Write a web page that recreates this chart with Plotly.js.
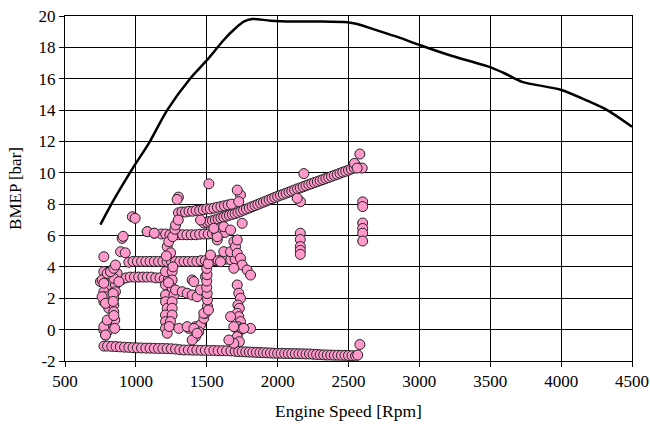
<!DOCTYPE html>
<html>
<head>
<meta charset="utf-8">
<script src="https://cdn.plot.ly/plotly-3.0.1.min.js"></script>
<style>html,body{margin:0;padding:0;background:#fff;}#chart{width:650px;height:426px;}</style>
</head>
<body>
<div id="chart"></div>
<script>
// Full-load BMEP curve
const flRpm  = [750,844,985,1091,1221,1385,1503,1620,1700,1761,1821,1950,2114,2300,2491,2561,2679,2850,3001,3214,3478,3600,3725,3996,4184,4325,4500];
const flBmep = [6.7,8.27,10.39,11.88,14.0,16.03,17.2,18.47,19.2,19.64,19.81,19.7,19.65,19.65,19.6,19.49,19.15,18.65,18.15,17.5,16.8,16.35,15.8,15.3,14.6,14.0,12.94];

// Operating points (grouped by visual clusters)
const motorRpm  = [775,800,830,860,890,920,950,980,1010,1040,1070,1100,1130,1160,1190,1220,1250,1280,1310,1340,1370,1400,1430,1460,1490,1520,1550,1580,1610,1640,1670,1700,1725,1750,1775,1800,1825,1850,1875,1900,1925,1950,1975,2000,2025,2050,2075,2100,2125,2150,2175,2200,2225,2250,2275,2300,2325,2350,2375,2400,2425,2450,2475,2500,2525,2550,2565];
const motorBmep = [-1.05,-1.05,-1.07,-1.08,-1.1,-1.12,-1.13,-1.15,-1.16,-1.17,-1.18,-1.18,-1.19,-1.2,-1.2,-1.21,-1.22,-1.24,-1.28,-1.3,-1.3,-1.31,-1.31,-1.32,-1.32,-1.33,-1.33,-1.34,-1.34,-1.35,-1.36,-1.38,-1.4,-1.41,-1.42,-1.43,-1.44,-1.45,-1.46,-1.47,-1.48,-1.49,-1.5,-1.51,-1.51,-1.52,-1.52,-1.53,-1.53,-1.54,-1.54,-1.55,-1.55,-1.57,-1.58,-1.6,-1.61,-1.62,-1.62,-1.63,-1.63,-1.64,-1.64,-1.65,-1.66,-1.68,-1.62];

const diagRpm  = [1480,1500,1520,1540,1560,1580,1600,1620,1640,1660,1680,1700,1720,1740,1760,1780,1800,1820,1840,1860,1880,1900,1920,1940,1960,1980,2000,2020,2040,2060,2080,2100,2120,2140,2160,2180,2200,2220,2240,2260,2280,2300,2320,2340,2360,2380,2400,2420,2440,2460,2480,2500,2520,2540,2560];
const diagBmep = [6.8,6.85,6.9,6.95,7.0,7.06,7.12,7.18,7.24,7.3,7.35,7.4,7.47,7.54,7.62,7.69,7.76,7.84,7.91,7.98,8.06,8.13,8.2,8.28,8.35,8.43,8.5,8.57,8.63,8.7,8.77,8.84,8.91,8.98,9.04,9.11,9.18,9.25,9.31,9.38,9.44,9.51,9.57,9.64,9.7,9.77,9.84,9.9,9.97,10.04,10.1,10.17,10.24,10.31,10.4];

const rowARpm  = [1300,1325,1350,1375,1400,1425,1450,1475,1500,1525,1550,1575,1600,1625,1650,1675];
const rowABmep = [7.45,7.5,7.5,7.55,7.55,7.6,7.6,7.65,7.7,7.7,7.75,7.8,7.85,7.9,7.95,8.0];

const rowBRpm  = [1080,1130,1180,1210,1240,1270,1300,1330,1360,1390,1420,1450,1480,1510,1540,1570,1600,1630];
const rowBBmep = [6.25,6.15,6.1,6.1,6.05,6.05,6.05,6.05,6.05,6.05,6.05,6.08,6.1,6.1,6.12,6.15,6.15,6.2];

const rowCRpm  = [950,980,1010,1040,1070,1100,1130,1160,1190,1220,1250,1280,1310,1340,1370,1400,1430,1460,1490,1520,1550,1580,1610,1640,1670,1700];
const rowCBmep = [4.3,4.35,4.35,4.35,4.35,4.35,4.35,4.35,4.35,4.35,4.35,4.35,4.35,4.35,4.35,4.35,4.35,4.4,4.4,4.4,4.4,4.4,4.45,4.5,4.45,4.5];

const rowDRpm  = [870,900,930,960,990,1020,1050,1080,1110,1140,1170,1200,1230];
const rowDBmep = [3.1,3.2,3.3,3.35,3.35,3.35,3.35,3.35,3.35,3.3,3.3,3.25,3.2];

const leftRpm  = [750,774,786,798,774,786,774,798,809,786,774,786,798,856,856,868,844,821,880,844,844,844,851,851,774,762,774,798,821,844,856,892,903,774,786,798,762,786,840,840,845];
const leftBmep = [3.06,3.7,3.17,2.85,2.42,2.1,1.78,1.57,1.36,0.3,-0.02,-0.34,-0.13,2.85,2.42,3.59,3.27,3.7,3.06,2.0,1.57,1.14,0.61,0.08,4.65,3.17,2.96,3.59,3.7,3.91,4.12,4.97,5.82,0.19,-0.34,0.61,2.1,1.68,2.3,1.8,0.9];

const colARpm  = [1209,1209,1256,1256,1256,1209,1209,1221,1209,1209,1209,1221,1268,1256,1256,1256,1244,1261,1230,1235];
const colABmep = [3.7,2.85,3.7,3.17,2.64,2.21,1.78,1.36,0.93,0.51,0.08,-0.23,2.21,1.78,1.36,0.93,0.51,4.0,3.0,0.2];

const colBRpm  = [1221,1232,1260,1275,1280,1299,1245,1215];
const colBBmep = [5.29,5.61,5.93,6.4,6.67,6.99,4.9,4.7];

const midRpm  = [1280,1327,1362,1397,1432,1397,1303,1373,1421,1456,1479,1491,1421,1397,1444,1409,1491,1456,1362,1409,1432,1479];
const midBmep = [2.53,2.42,2.32,2.21,2.1,3.17,0.08,0.08,0.19,0.3,0.72,1.04,-0.45,-0.66,-0.13,3.06,3.38,2.53,0.19,0.08,-0.23,1.04];

const colCRpm  = [1505,1505,1503,1500,1500,1502,1500,1510,1512];
const colCBmep = [1.5,1.9,2.3,2.7,3.1,3.5,3.9,4.2,1.25];

const colDRpm  = [1715,1726,1738,1720,1730,1715,1726,1738,1720,1726,1715,1730,1750,1809,1691,1668,1691,1656,1761];
const colDBmep = [2.85,2.32,2.0,1.57,1.36,1.04,0.83,0.51,0.19,-0.13,-0.45,-0.77,0.08,0.08,-0.87,0.83,0.19,-0.66,0.08];

const clRpm  = [1620,1668,1691,1703,1715,1738,1750,1785,1809,1597,1691,1574,1526,1574,1550,1620,1668,1456,1715,1750,1738,1715,1726];
const clBmep = [4.97,4.97,5.61,5.29,4.87,4.55,4.12,3.8,3.48,4.33,3.91,5.72,4.76,5.93,6.46,6.56,6.35,6.99,5.72,6.78,8.59,8.9,8.16];

const col2160Rpm  = [2160,2160,2160,2160,2160];
const col2160Bmep = [6.15,5.75,5.3,5.05,4.8];
const col2600Rpm  = [2600,2600,2600,2600,2600,2600];
const col2600Bmep = [8.15,7.85,6.8,6.45,6.15,5.65];

const miscRpm  = [975,995,1515,1300,1291,910,925,2185,2161,2138,2580,2542,2597,2561,2580,1080,1130];
const miscBmep = [7.2,7.1,9.3,8.45,8.3,5.95,4.9,9.95,8.16,8.38,11.2,10.6,10.3,10.3,-0.95,6.25,6.15];

const xTicks = [500,1000,1500,2000,2500,3000,3500,4000,4500];
const yTicks = [-2,0,2,4,6,8,10,12,14,16,18,20];

const opRpm = [].concat(motorRpm, diagRpm, rowARpm, rowBRpm, rowCRpm, rowDRpm, leftRpm, colARpm, colBRpm, midRpm, colCRpm, colDRpm, clRpm, col2160Rpm, col2600Rpm, miscRpm);
const opBmep = [].concat(motorBmep, diagBmep, rowABmep, rowBBmep, rowCBmep, rowDBmep, leftBmep, colABmep, colBBmep, midBmep, colCBmep, colDBmep, clBmep, col2160Bmep, col2600Bmep, miscBmep);

const font = '"Liberation Serif", "Times New Roman", serif';

const traces = [
  {
    x: flRpm, y: flBmep, type: 'scatter', mode: 'lines',
    line: {color: '#000', width: 2.5, shape: 'spline', smoothing: 0.8},
    hoverinfo: 'skip'
  },
  {
    x: opRpm, y: opBmep, type: 'scatter', mode: 'markers',
    marker: {size: 10, color: '#ff99cc', line: {color: '#222', width: 1}},
    hoverinfo: 'skip'
  }
];

const layout = {
  width: 650, height: 426,
  margin: {l: 65, r: 18, t: 16, b: 65},
  paper_bgcolor: '#fff', plot_bgcolor: '#fff',
  showlegend: false,
  font: {family: font, size: 17, color: '#000'},
  xaxis: {
    range: [500, 4500], tickvals: xTicks, ticktext: xTicks.map(String),
    showgrid: true, gridcolor: '#000', gridwidth: 1,
    showline: true, linecolor: '#000', linewidth: 1, mirror: true,
    ticks: 'outside', ticklen: 5, tickcolor: '#000',
    zeroline: false,
    tickfont: {family: font, size: 17, color: '#000'},
    title: {text: 'Engine Speed [Rpm]', font: {family: font, size: 17.5, color: '#000'}, standoff: 14}
  },
  yaxis: {
    range: [-2, 20], tickvals: yTicks, ticktext: yTicks.map(String),
    showgrid: true, gridcolor: '#000', gridwidth: 1,
    showline: true, linecolor: '#000', linewidth: 1, mirror: true,
    ticks: 'outside', ticklen: 5, tickcolor: '#000',
    zeroline: false,
    tickfont: {family: font, size: 17, color: '#000'},
    title: {text: 'BMEP [bar]', font: {family: font, size: 17, color: '#000'}, standoff: 12}
  }
};

Plotly.newPlot('chart', traces, layout, {displayModeBar: false, staticPlot: true});
</script>
</body>
</html>
